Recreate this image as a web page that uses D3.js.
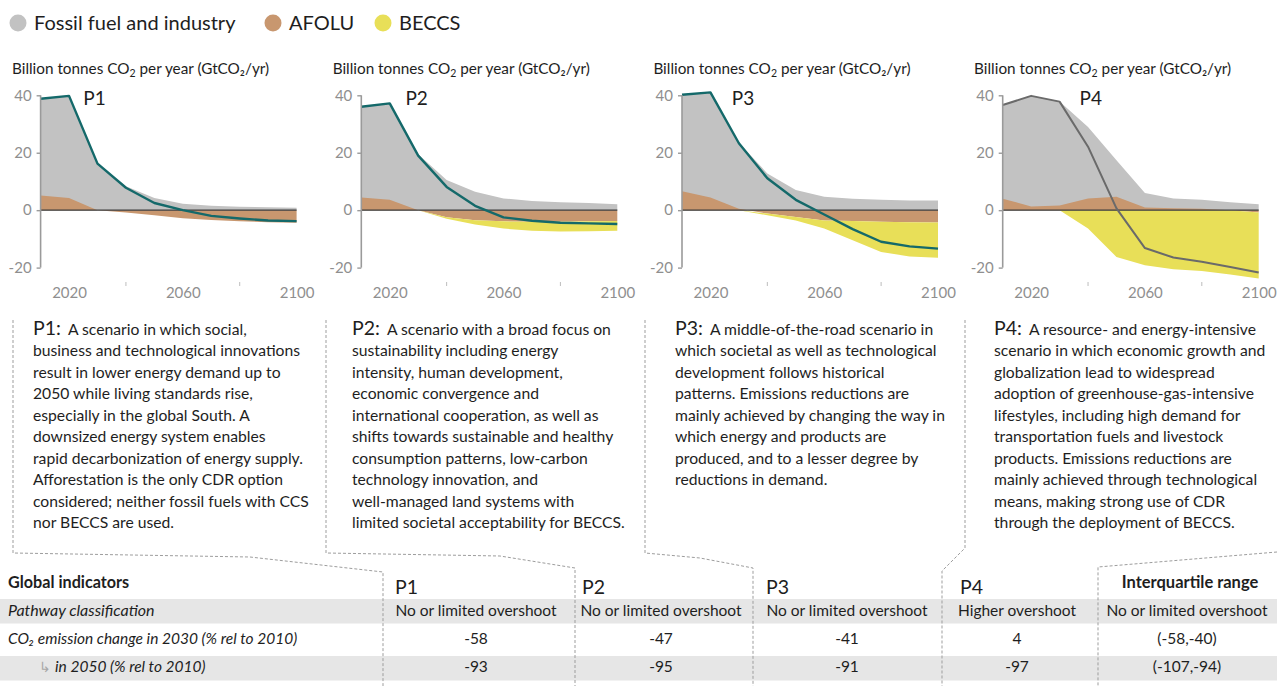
<!DOCTYPE html>
<html>
<head>
<meta charset="utf-8">
<script src="https://cdn.jsdelivr.net/npm/d3@7"></script>
<style>
  body { margin: 0; background: #fff; }
  svg { display: block; font-family: Lato, 'Noto Sans', sans-serif; }
</style>
</head>
<body>
<svg id="chart" width="1277" height="686"></svg>
<script>
// Four illustrative pathways: stacked contributions + net CO2 line,
// description boxes underneath and a small indicator table at the bottom.
var years = [2010, 2020, 2030, 2040, 2050, 2060, 2070, 2080, 2090, 2100];
var pathways = ['P1', 'P2', 'P3', 'P4'];

// top of the grey "fossil fuel and industry" band, GtCO2/yr
var fossilP1 = [38.6, 39.6, 16.2, 8.3, 4.2, 2.2, 1.5, 1.2, 1.0, 0.8];
var fossilP2 = [36.0, 37.2, 19.5, 10.5, 6.4, 4.1, 3.2, 2.8, 2.5, 2.1];
var fossilP3 = [40.2, 41.0, 23.5, 12.8, 7.0, 4.7, 4.0, 3.6, 3.4, 3.4];
var fossilP4 = [36.6, 39.8, 37.8, 29.0, 17.4, 6.0, 4.1, 3.6, 2.8, 2.1];

var afoluP1 = [5.1, 4.2, 0.0, -0.8, -1.8, -2.8, -3.4, -3.9, -4.2, -4.4];
var afoluP2 = [4.4, 3.6, 0.0, -2.5, -3.5, -3.9, -4.0, -4.0, -3.9, -3.8];
var afoluP3 = [6.6, 4.4, 0.5, -1.2, -2.4, -3.6, -3.8, -4.0, -4.2, -4.3];
var afoluP4 = [4.0, 1.3, 1.6, 4.1, 4.7, 0.9, 0.7, 0.5, 0.0, -0.8];

var beccsP1 = [0, 0, 0, 0, 0, 0, 0, 0, 0, 0];
var beccsP2 = [0, 0, 0, -0.5, -1.5, -2.5, -3.2, -3.4, -3.4, -3.4];
var beccsP3 = [0, 0, 0, -0.6, -1.2, -2.8, -6.7, -10.6, -11.9, -12.3];
var beccsP4 = [0, 0, 0, -6.4, -16.3, -19.2, -20.6, -21.2, -22.4, -23.0];

var netP1 = [38.8, 39.8, 16.2, 7.8, 2.5, 0.0, -2.0, -2.9, -3.6, -3.8];
var netP2 = [36.0, 37.2, 19.0, 8.1, 1.5, -2.5, -3.7, -4.4, -4.6, -4.8];
var netP3 = [40.2, 41.0, 23.3, 11.1, 3.6, -1.5, -6.6, -11.0, -12.6, -13.4];
var netP4 = [36.6, 39.8, 37.8, 22.1, 0.6, -13.2, -16.5, -18.0, -19.8, -21.7];

var labelYear = [2025, 2025.5, 2027.5, 2037];   // where the P-label sits

var yTicks = [40, 20, 0, -20];
var xLabelTicks = [2020, 2060, 2100];
var xMinorTicks = [2040, 2080];

var legendItems = ['Fossil fuel and industry', 'AFOLU', 'BECCS'];

var descP1 = ['A scenario in which social,', 'business and technological innovations',
  'result in lower energy demand up to', '2050 while living standards rise,',
  'especially in the global South. A', 'downsized energy system enables',
  'rapid decarbonization of energy supply.', 'Afforestation is the only CDR option',
  'considered; neither fossil fuels with CCS', 'nor BECCS are used.'];
var descP2 = ['A scenario with a broad focus on', 'sustainability including energy',
  'intensity, human development,', 'economic convergence and',
  'international cooperation, as well as', 'shifts towards sustainable and healthy',
  'consumption patterns, low-carbon', 'technology innovation, and',
  'well-managed land systems with', 'limited societal acceptability for BECCS.'];
var descP3 = ['A middle-of-the-road scenario in', 'which societal as well as technological',
  'development follows historical', 'patterns. Emissions reductions are',
  'mainly achieved by changing the way in', 'which energy and products are',
  'produced, and to a lesser degree by', 'reductions in demand.'];
var descP4 = ['A resource- and energy-intensive', 'scenario in which economic growth and',
  'globalization lead to widespread', 'adoption of greenhouse-gas-intensive',
  'lifestyles, including high demand for', 'transportation fuels and livestock',
  'products. Emissions reductions are', 'mainly achieved through technological',
  'means, making strong use of CDR', 'through the deployment of BECCS.'];

var tableHeaders = ['P1', 'P2', 'P3', 'P4', 'Interquartile range'];
var rowLabels = ['Pathway classification', 'CO\u2082 emission change in 2030 (% rel to 2010)', 'in 2050 (% rel to 2010)'];
var rowClassification = ['No or limited overshoot', 'No or limited overshoot', 'No or limited overshoot', 'Higher overshoot', 'No or limited overshoot'];
var row2030 = ['-58', '-47', '-41', '4', '(-58,-40)'];
var row2050 = ['-93', '-95', '-91', '-97', '(-107,-94)'];

(function () {
  var C = {
    fossil: '#c2c2c2',
    afolu: '#c8976f',
    beccs: '#e8df58',
    net: '#14696a',
    net4: '#6a6a6a',
    axis: '#9a9a9a',
    tick: '#8f8f8f',
    ink: '#1e1e1e',
    band: '#e6e6e6',
    dash: '#9d9d9d'
  };
  var series = [
    { fossil: fossilP1, afolu: afoluP1, beccs: beccsP1, net: netP1, desc: descP1 },
    { fossil: fossilP2, afolu: afoluP2, beccs: beccsP2, net: netP2, desc: descP2 },
    { fossil: fossilP3, afolu: afoluP3, beccs: beccsP3, net: netP3, desc: descP3 },
    { fossil: fossilP4, afolu: afoluP4, beccs: beccsP4, net: netP4, desc: descP4 }
  ];

  var svg = d3.select('#chart');

  // ---- legend
  var legendColors = [C.fossil, C.afolu, C.beccs];
  var legendX = [18, 273, 383];
  var gLeg = svg.append('g');
  legendItems.forEach(function (name, i) {
    gLeg.append('circle').attr('cx', legendX[i]).attr('cy', 23).attr('r', 8.5)
      .attr('fill', legendColors[i]);
    gLeg.append('text').attr('x', legendX[i] + 16).attr('y', 30)
      .attr('font-size', 20).attr('fill', C.ink).text(name);
  });

  // ---- panels
  var PANEL_W = 256;
  var y = d3.scaleLinear().domain([-20, 40]).range([267.6, 95.3]);

  series.forEach(function (s, i) {
    var x0 = 40.6 + i * 320.7;
    var x = d3.scaleLinear().domain([2010, 2100]).range([x0, x0 + PANEL_W]);
    var g = svg.append('g');

    var sub = g.append('text').attr('x', x0 - 28.6).attr('y', 74)
      .attr('font-size', 15.3).attr('fill', C.ink);
    sub.append('tspan').text('Billion tonnes CO');
    sub.append('tspan').attr('font-size', 10.5).attr('dy', 3).text('2');
    sub.append('tspan').attr('dy', -3).text(' per year (GtCO\u2082/yr)');

    var rows = years.map(function (yr, k) {
      var a = s.afolu[k];
      var base = Math.min(a, 0);
      return { t: yr, f: s.fossil[k], a: a, b0: base, b1: base + s.beccs[k], n: s.net[k] };
    });

    g.append('path').datum(rows).attr('fill', C.fossil)
      .attr('d', d3.area().x(function (d) { return x(d.t); })
        .y0(y(0)).y1(function (d) { return y(d.f); }));
    g.append('path').datum(rows).attr('fill', C.afolu)
      .attr('d', d3.area().x(function (d) { return x(d.t); })
        .y0(y(0)).y1(function (d) { return y(d.a); }));
    g.append('path').datum(rows).attr('fill', C.beccs)
      .attr('d', d3.area().x(function (d) { return x(d.t); })
        .y0(function (d) { return y(d.b0); }).y1(function (d) { return y(d.b1); }));

    g.append('line').attr('x1', x0).attr('x2', x(2100))
      .attr('y1', y(0)).attr('y2', y(0))
      .attr('stroke', '#3a3a3a').attr('stroke-width', 1.2);

    g.append('path').datum(rows)
      .attr('fill', 'none')
      .attr('stroke', i === 3 ? C.net4 : C.net)
      .attr('stroke-width', i === 3 ? 2 : 2.4)
      .attr('stroke-linejoin', 'round')
      .attr('d', d3.line().x(function (d) { return x(d.t); }).y(function (d) { return y(d.n); }));

    // y axis
    var ya = g.append('g').attr('transform', 'translate(' + x0 + ',0)')
      .call(d3.axisLeft(y).tickValues(yTicks).tickSize(4).tickPadding(5)
        .tickFormat(function (d) { return String(d); }));
    ya.select('.domain').attr('stroke', C.axis).attr('stroke-width', 1.6)
      .attr('d', 'M0,' + y(40) + 'V' + y(-20));
    ya.selectAll('.tick line').attr('stroke', C.axis).attr('stroke-width', 1.4);
    ya.selectAll('.tick text').attr('fill', C.tick).attr('font-size', 15)
      .attr('font-family', 'Lato, sans-serif');

    // x axis: labels only, two minor ticks
    var xa = g.append('g').attr('transform', 'translate(0,282)')
      .call(d3.axisBottom(x).tickValues(xLabelTicks).tickSize(0).tickPadding(5)
        .tickFormat(d3.format('d')));
    xa.select('.domain').remove();
    xa.selectAll('.tick text').attr('fill', C.tick).attr('font-size', 15)
      .attr('font-family', 'Lato, sans-serif');
    xMinorTicks.forEach(function (t) {
      g.append('line').attr('x1', x(t)).attr('x2', x(t)).attr('y1', 282).attr('y2', 286)
        .attr('stroke', '#bdbdbd').attr('stroke-width', 1);
    });

    g.append('text').attr('x', x(labelYear[i])).attr('y', 105)
      .attr('font-size', 19).attr('fill', C.ink).text(pathways[i]);

    // description
    var tx = [33, 352, 675, 994][i];
    s.desc.forEach(function (line, k) {
      var t = g.append('text').attr('x', tx).attr('y', 335 + k * 21.45)
        .attr('font-size', 15.7).attr('fill', C.ink);
      if (k === 0) {
        t.append('tspan').attr('font-size', 19.5).text(pathways[i] + ':');
        t.append('tspan').attr('dx', 7).text(line);
      } else {
        t.text(line);
      }
    });
  });

  // ---- dashed connectors from the description boxes to the table columns
  var connectors = [
    [[13, 320], [13, 553], [250, 557], [383, 572], [383, 686]],
    [[326, 320], [326, 553], [500, 556], [575, 568], [575, 686]],
    [[645, 320], [645, 553], [700, 558], [753, 568], [753, 686]],
    [[965, 320], [965, 548], [942, 571], [942, 686]],
    [[1277, 552], [1098, 567], [1098, 686]]
  ];

  // ---- table
  var colCenter = [476, 661, 847, 1017, 1187];
  var colLeft = [395, 582, 766, 960];
  var gT = svg.append('g');
  gT.append('rect').attr('x', 0).attr('y', 599).attr('width', 1277).attr('height', 24.5).attr('fill', C.band);
  gT.append('rect').attr('x', 0).attr('y', 656).attr('width', 1277).attr('height', 24.5).attr('fill', C.band);

  var dline = d3.line();
  connectors.forEach(function (pts) {
    svg.append('path').attr('d', dline(pts)).attr('fill', 'none')
      .attr('stroke', C.dash).attr('stroke-width', 1).attr('stroke-dasharray', '3,2');
  });

  gT.append('text').attr('x', 8).attr('y', 588).attr('font-size', 16.2).attr('font-weight', 'bold')
    .attr('fill', C.ink).text('Global indicators');
  tableHeaders.forEach(function (h, j) {
    if (j < 4) {
      gT.append('text').attr('x', colLeft[j]).attr('y', 594).attr('font-size', 19.5)
        .attr('fill', C.ink).text(h);
    } else {
      gT.append('text').attr('x', colCenter[j] + 3).attr('y', 588).attr('font-size', 16.5)
        .attr('font-weight', 'bold').attr('text-anchor', 'middle').attr('fill', C.ink).text(h);
    }
  });

  var rowY = [616, 644, 672];
  gT.append('text').attr('x', 8).attr('y', rowY[0]).attr('font-size', 16).attr('font-style', 'italic')
    .attr('fill', C.ink).text(rowLabels[0]);
  gT.append('text').attr('x', 8).attr('y', rowY[1]).attr('font-size', 15.5).attr('font-style', 'italic')
    .attr('fill', C.ink).text(rowLabels[1]);
  gT.append('text').attr('x', 39).attr('y', rowY[2]).attr('font-size', 14).attr('fill', '#a8a8a8')
    .text('\u21b3');
  gT.append('text').attr('x', 55).attr('y', rowY[2]).attr('font-size', 15.5).attr('font-style', 'italic')
    .attr('fill', C.ink).text(rowLabels[2]);

  [rowClassification, row2030, row2050].forEach(function (row, r) {
    row.forEach(function (v, j) {
      gT.append('text').attr('x', colCenter[j]).attr('y', rowY[r]).attr('font-size', 15.5)
        .attr('text-anchor', 'middle').attr('fill', C.ink).text(v);
    });
  });
})();
</script>
</body>
</html>
